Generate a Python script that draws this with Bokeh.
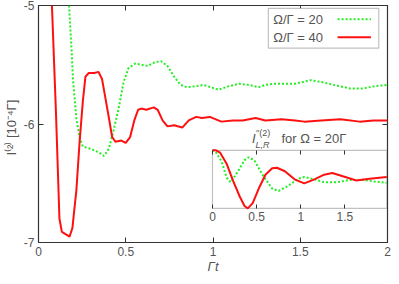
from bokeh.plotting import figure
from bokeh.models import (Range1d, LinearAxis, FixedTicker, Label, BoxAnnotation, Arrow,
                          CustomLabelingPolicy)
from bokeh.embed import file_html
from bokeh.resources import INLINE

# ---------------- data ----------------
red_t = [0.077, 0.10, 0.12, 0.134, 0.178, 0.194, 0.217, 0.235, 0.254, 0.269, 0.288, 0.319,
         0.344, 0.364, 0.381, 0.40, 0.422, 0.441, 0.474, 0.50, 0.525, 0.549, 0.571, 0.59,
         0.618, 0.661, 0.683, 0.711, 0.739, 0.777, 0.824, 0.861, 0.904, 0.936, 0.982,
         1.048, 1.113, 1.17, 1.244, 1.30, 1.393, 1.47, 1.524, 1.62, 1.73, 1.84, 1.92, 2.0]
red_v = [-5.0, -5.9, -6.8, -6.91, -6.95, -6.88, -6.56, -6.16, -5.81, -5.6, -5.57, -5.57,
         -5.56, -5.62, -5.76, -5.92, -6.11, -6.15, -6.14, -6.16, -6.11, -5.97, -5.88, -5.87,
         -5.88, -5.86, -5.88, -5.97, -6.02, -6.01, -6.03, -5.97, -5.94, -5.95, -5.94,
         -5.98, -5.97, -5.97, -5.95, -5.97, -5.96, -5.97, -5.98, -5.97, -5.96, -5.98, -5.97, -5.97]

green_t = [0.175, 0.189, 0.198, 0.217, 0.235, 0.254, 0.30, 0.347, 0.375, 0.403, 0.431, 0.459,
           0.487, 0.515, 0.553, 0.59, 0.627, 0.665, 0.702, 0.739, 0.777, 0.814, 0.852, 0.908,
           0.945, 1.03, 1.094, 1.15, 1.206, 1.26, 1.30, 1.356, 1.47, 1.56, 1.636, 1.69, 1.785,
           1.86, 1.93, 2.0]
green_v = [-5.0, -5.36, -5.63, -5.95, -6.11, -6.19, -6.21, -6.24, -6.27, -6.21, -6.05, -5.87,
           -5.65, -5.53, -5.49, -5.50, -5.51, -5.48, -5.47, -5.51, -5.60, -5.67, -5.69, -5.68,
           -5.67, -5.71, -5.68, -5.66, -5.67, -5.69, -5.67, -5.66, -5.66, -5.63, -5.65, -5.67,
           -5.70, -5.70, -5.68, -5.67]

inset_red_t = [0.0, 0.04, 0.087, 0.16, 0.235, 0.31, 0.363, 0.40, 0.456, 0.53, 0.60, 0.676,
               0.73, 0.82, 0.93, 1.04, 1.155, 1.265, 1.357, 1.486, 1.63, 1.78, 1.975]
inset_red_v = [1.0, 1.0, 0.96, 0.77, 0.47, 0.20, 0.04, 0.0, 0.09, 0.36, 0.58, 0.69,
               0.70, 0.64, 0.50, 0.43, 0.50, 0.58, 0.61, 0.55, 0.48, 0.51, 0.54]
inset_green_t = [0.0, 0.03, 0.106, 0.16, 0.206, 0.29, 0.363, 0.41, 0.474, 0.566, 0.676, 0.75,
                 0.86, 0.97, 1.04, 1.155, 1.265, 1.41, 1.56, 1.706, 1.85, 1.975]
inset_green_v = [1.0, 0.99, 0.80, 0.53, 0.45, 0.64, 0.83, 0.88, 0.83, 0.58, 0.34, 0.30,
                 0.39, 0.51, 0.54, 0.50, 0.45, 0.45, 0.49, 0.49, 0.46, 0.44]

x_ticks = [0, 0.5, 1, 1.5, 2]
x_tick_labels = ["0", "0.5", "1", "1.5", "2"]
y_ticks = [-7, -6, -5]
y_tick_labels = ["-7", "-6", "-5"]
inset_ticks = [0, 0.5, 1, 1.5]
inset_tick_labels = ["0", "0.5", "1", "1.5"]

series_labels = ["\u03a9/\u0393 = 20", "\u03a9/\u0393 = 40"]
x_label = "\u0393t"
y_label = "I\u207d\u00b2\u207e   [10\u207b\u2074\u0393]"

# ---------------- style ----------------
FONT = "Liberation Sans"
TXT = "#555555"
FRAME = "#333333"
GREEN = "#22ee22"
RED = "#ff1010"

p = figure(width=391, height=276, x_range=Range1d(0, 2), y_range=Range1d(-7, -5),
           output_backend="svg", toolbar_location=None,
           min_border_left=30, min_border_right=4, min_border_top=5, min_border_bottom=20)
p.grid.visible = False
p.outline_line_color = FRAME
p.outline_line_width = 1.2
p.background_fill_color = "white"
p.border_fill_color = "white"

# inset placement (main-plot coordinates)
in_l, in_r = 0.997, 1.996
in_b, in_t = -6.712, -6.222
in_xmax = 1.975
sx = (in_r - in_l) / in_xmax
sy = (in_t - in_b) / 1.0
p.extra_x_ranges = {"ix": Range1d(0 - (in_l - 0) / sx, in_xmax + (2 - in_r) / sx)}
p.extra_y_ranges = {"iy": Range1d(0 - (in_b - (-7)) / sy, 1 + (-5 - in_t) / sy)}

no_labels = CustomLabelingPolicy(code="return new Set()")


def style_axis(ax, ticks, labels, show_labels=True):
    ax.ticker = FixedTicker(ticks=ticks)
    ax.major_label_overrides = {t: l for t, l in zip(ticks, labels)}
    ax.minor_tick_line_color = None
    ax.major_tick_in = 5
    ax.major_tick_out = 0
    ax.major_tick_line_color = FRAME
    ax.axis_line_color = None
    ax.major_label_text_font = FONT
    ax.major_label_text_font_size = "12px" if show_labels else "1px"
    ax.major_label_text_color = TXT
    ax.major_label_standoff = 4 if show_labels else 0
    if not show_labels:
        ax.major_label_policy = no_labels


style_axis(p.xaxis[0], x_ticks, x_tick_labels)
style_axis(p.yaxis[0], y_ticks, y_tick_labels)
p.yaxis[0].major_label_standoff = 4
p.xaxis[0].axis_label = x_label
p.xaxis[0].axis_label_text_font_style = "italic"
p.yaxis[0].axis_label = y_label
p.yaxis[0].axis_label_text_font_style = "normal"
for ax in (p.xaxis[0], p.yaxis[0]):
    ax.axis_label_text_font = FONT
    ax.axis_label_text_font_size = "13px"
    ax.axis_label_text_color = TXT
    ax.axis_label_standoff = 2
p.xaxis[0].axis_label_standoff = 0

top_ax = LinearAxis()
style_axis(top_ax, x_ticks, x_tick_labels, show_labels=False)
p.add_layout(top_ax, "above")
right_ax = LinearAxis()
style_axis(right_ax, y_ticks, y_tick_labels, show_labels=False)
p.add_layout(right_ax, "right")

# main curves
p.line(green_t, green_v, line_color=GREEN, line_width=2, line_dash="2 2")
p.line(red_t, red_v, line_color=RED, line_width=2)

# legend (text left, sample right)
p.add_layout(BoxAnnotation(left=1.317, right=1.95, top=-5.024, bottom=-5.36,
                           fill_color="white", fill_alpha=1, line_color=FRAME, line_width=1.2,
                           level="overlay"))
leg_y = [-5.116, -5.268]
leg_style = [dict(line_color=GREEN, line_width=2, line_dash="2 2"),
             dict(line_color=RED, line_width=2, line_dash="solid")]
for lab, yy, st in zip(series_labels, leg_y, leg_style):
    p.add_layout(Label(x=1.345, y=yy, text=lab, text_font=FONT, text_font_size="13px",
                       text_color=TXT, text_baseline="middle", level="overlay"))
    p.add_layout(Arrow(end=None, x_start=1.714, y_start=yy, x_end=1.905, y_end=yy,
                       level="overlay", **st))

# inset
p.add_layout(BoxAnnotation(left=0, right=in_xmax, bottom=0, top=1,
                           x_range_name="ix", y_range_name="iy",
                           fill_color="white", fill_alpha=1, line_color=FRAME, line_width=1.2,
                           level="underlay"))
p.line(inset_green_t, inset_green_v, x_range_name="ix", y_range_name="iy",
       line_color=GREEN, line_width=2, line_dash="2 2")
p.line(inset_red_t, inset_red_v, x_range_name="ix", y_range_name="iy",
       line_color=RED, line_width=2)

ib = LinearAxis(x_range_name="ix", y_range_name="iy", fixed_location=0, bounds=(0, in_xmax))
style_axis(ib, inset_ticks, inset_tick_labels)
ib.major_tick_in = 4
p.add_layout(ib, "below")
it = LinearAxis(x_range_name="ix", y_range_name="iy", fixed_location=1, bounds=(0, in_xmax))
style_axis(it, inset_ticks, inset_tick_labels, show_labels=False)
it.major_tick_in = 4
p.add_layout(it, "above")

# inset title  I''(2)_{L,R} for Omega = 20 Gamma
title_parts = [
    ("I", 39.6, 12, "13px", "italic"),
    ("\u2033(2)", 43.5, 17.5, "9px", "normal"),
    ("L,R", 43.0, 5.5, "9px", "italic"),
    ("for \u03a9 = 20\u0393", 69.0, 11.5, "13px", "normal"),
]
for txt, xo, yo, fs, fst in title_parts:
    p.add_layout(Label(x=0, y=1, x_range_name="ix", y_range_name="iy", x_offset=xo, y_offset=yo,
                       text=txt, text_font=FONT, text_font_size=fs, text_font_style=fst,
                       text_color=TXT, text_baseline="middle"))

open("out.html", "w").write(file_html(p, INLINE))
